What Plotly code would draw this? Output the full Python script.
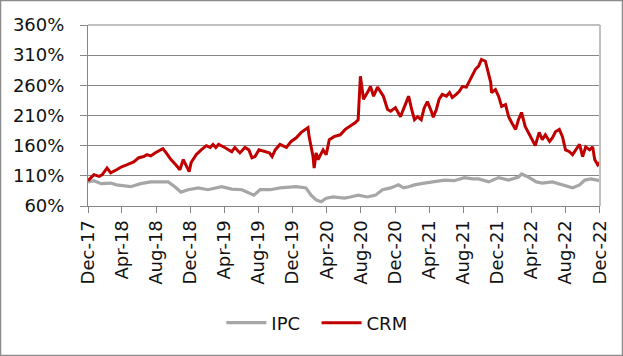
import plotly.graph_objects as go

# CRM (red) readings
crm_dates = [
    "2017-12-29", "2018-01-19", "2018-02-07", "2018-02-18", "2018-03-07", "2018-03-20",
    "2018-04-10", "2018-04-28", "2018-05-16", "2018-06-10", "2018-06-28", "2018-07-16",
    "2018-07-27", "2018-08-10", "2018-08-25", "2018-09-22", "2018-10-04", "2018-10-21",
    "2018-11-08", "2018-11-22", "2018-12-04", "2018-12-14", "2018-12-25", "2019-01-01",
    "2019-01-19", "2019-02-06", "2019-02-24", "2019-03-10", "2019-03-20", "2019-03-30",
    "2019-04-09", "2019-05-01", "2019-05-26", "2019-06-06", "2019-06-24", "2019-07-12",
    "2019-07-26", "2019-08-06", "2019-08-17", "2019-08-31", "2019-09-18", "2019-10-07",
    "2019-10-17", "2019-10-28", "2019-11-14", "2019-12-07", "2019-12-24", "2020-01-11",
    "2020-01-29", "2020-02-15", "2020-02-22", "2020-02-26", "2020-03-04", "2020-03-11",
    "2020-03-15", "2020-03-22", "2020-03-29", "2020-04-16", "2020-04-27", "2020-05-08",
    "2020-05-25", "2020-06-16", "2020-07-04", "2020-07-22", "2020-08-08", "2020-08-19",
    "2020-08-27", "2020-08-30", "2020-09-07", "2020-09-21", "2020-10-02", "2020-10-13",
    "2020-10-27", "2020-11-06", "2020-11-17", "2020-12-02", "2020-12-13", "2020-12-30",
    "2021-01-17", "2021-02-05", "2021-02-15", "2021-02-26", "2021-03-08", "2021-03-19",
    "2021-04-01", "2021-04-12", "2021-04-23", "2021-05-07", "2021-05-14", "2021-05-25",
    "2021-06-04", "2021-06-15", "2021-06-30", "2021-07-11", "2021-07-21", "2021-08-04",
    "2021-08-15", "2021-08-26", "2021-09-09", "2021-09-20", "2021-10-02", "2021-10-12",
    "2021-10-23", "2021-11-02", "2021-11-16", "2021-11-23", "2021-12-05", "2021-12-08",
    "2021-12-22", "2022-01-02", "2022-01-13", "2022-01-27", "2022-02-07", "2022-02-18",
    "2022-03-04", "2022-03-14", "2022-03-25", "2022-04-07", "2022-04-18", "2022-04-29",
    "2022-05-13", "2022-05-27", "2022-06-07", "2022-06-18", "2022-07-03", "2022-07-13",
    "2022-07-24", "2022-08-07", "2022-08-18", "2022-08-29", "2022-09-12", "2022-09-23",
    "2022-10-04", "2022-10-18", "2022-10-29", "2022-11-09", "2022-11-23", "2022-12-04",
    "2022-12-11", "2022-12-22", "2022-12-29",
]
crm_values = [
    102, 112, 109, 112, 123, 115,
    120, 125, 128, 133, 140, 142,
    145, 143, 148, 155, 148, 137,
    128, 120, 137, 128, 117, 132,
    145, 153, 160, 157, 162, 157,
    162, 157, 150, 157, 148, 157,
    153, 140, 142, 153, 150, 148,
    142, 153, 162, 157, 167, 173,
    182, 187, 190, 175, 158, 142,
    123, 148, 137, 153, 145, 170,
    175, 178, 187, 192, 198, 203,
    275, 265, 237, 248, 258, 242,
    257, 250, 242, 220, 217, 223,
    208, 230, 242, 220, 203, 208,
    203, 223, 233, 217, 207, 220,
    237, 245, 242, 248, 240, 245,
    250, 258, 257, 267, 278, 287,
    292, 303, 300, 287, 265, 248,
    253, 242, 225, 228, 208, 198,
    187, 203, 215, 192, 182, 170,
    160, 182, 170, 178, 167, 173,
    183, 187, 175, 153, 150, 145,
    153, 162, 142, 158, 153, 158,
    137, 128, 132,
]

# IPC (grey) readings
ipc_dates = [
    "2017-12-29", "2018-01-19", "2018-02-14", "2018-03-20", "2018-04-10", "2018-05-30",
    "2018-07-05", "2018-08-10", "2018-09-05", "2018-10-11", "2018-11-04", "2018-11-26",
    "2018-12-21", "2019-01-27", "2019-03-02", "2019-04-20", "2019-05-26", "2019-07-01",
    "2019-08-13", "2019-09-04", "2019-10-10", "2019-11-14", "2020-01-11", "2020-02-15",
    "2020-03-04", "2020-03-22", "2020-04-09", "2020-04-27", "2020-05-22", "2020-07-01",
    "2020-07-22", "2020-08-19", "2020-09-21", "2020-10-20", "2020-11-14", "2020-12-13",
    "2021-01-10", "2021-01-28", "2021-02-15", "2021-03-08", "2021-04-12", "2021-05-17",
    "2021-06-23", "2021-07-28", "2021-09-02", "2021-10-02", "2021-10-23", "2021-11-28",
    "2022-01-02", "2022-02-07", "2022-03-14", "2022-03-25", "2022-04-18", "2022-05-17",
    "2022-06-07", "2022-07-13", "2022-08-18", "2022-09-23", "2022-10-18", "2022-11-06",
    "2022-11-27", "2022-12-29",
]
ipc_values = [
    100, 102, 97, 98, 95, 92,
    97, 100, 100, 100, 92, 83,
    87, 90, 87, 92, 88, 87,
    78, 87, 87, 90, 92, 90,
    78, 70, 67, 73, 75, 73,
    75, 78, 75, 78, 87, 90,
    95, 90, 92, 95, 98, 100,
    103, 102, 107, 105, 105, 100,
    107, 103, 108, 113, 108, 100,
    98, 100, 95, 90, 95, 103,
    105, 102,
]

tick_vals = [
    "2017-12-29", "2018-04-29", "2018-08-29", "2018-12-29", "2019-04-29", "2019-08-29",
    "2019-12-29", "2020-04-29", "2020-08-29", "2020-12-29", "2021-04-29", "2021-08-29",
    "2021-12-29", "2022-04-29", "2022-08-29", "2022-12-29",
]
tick_text = [
    "Dec-17", "Apr-18", "Aug-18", "Dec-18", "Apr-19", "Aug-19", "Dec-19", "Apr-20",
    "Aug-20", "Dec-20", "Apr-21", "Aug-21", "Dec-21", "Apr-22", "Aug-22", "Dec-22",
]
y_ticks = [60, 110, 160, 210, 260, 310, 360]

FONT = "DejaVu Sans"
FS = 18
fig = go.Figure()
fig.add_trace(go.Scatter(x=ipc_dates, y=ipc_values, name="IPC\u00a0\u00a0", mode="lines",
                         line=dict(color="#A6A6A6", width=3.2)))
fig.add_trace(go.Scatter(x=crm_dates, y=crm_values, name="CRM", mode="lines",
                         line=dict(color="#C00000", width=3)))

fig.update_layout(
    width=623, height=356,
    margin=dict(l=88, r=23, t=25, b=150, autoexpand=False),
    paper_bgcolor="white", plot_bgcolor="white",
    font=dict(family=FONT, size=FS, color="#111111"),
    showlegend=True,
    legend=dict(orientation="h", x=0.447, xanchor="center", y=-0.646, yanchor="middle",
                font=dict(family=FONT, size=FS, color="#111111"),
                itemwidth=40, tracegroupgap=0, bgcolor="rgba(0,0,0,0)"),
    xaxis=dict(type="date", range=["2017-12-29", "2022-12-30"],
               tickmode="array", tickvals=tick_vals, ticktext=tick_text,
               tickangle=-90, ticks="outside", ticklen=6, tickcolor="#868686",
               showline=True, linecolor="#868686", linewidth=1,
               showgrid=False, zeroline=False, automargin=False,
               tickfont=dict(family=FONT, size=FS, color="#111111")),
    yaxis=dict(range=[60, 360], tickmode="array", tickvals=y_ticks,
               ticktext=[f"{v}%" for v in y_ticks],
               ticks="outside", ticklen=7, tickcolor="#868686",
               showline=True, linecolor="#868686", linewidth=1,
               showgrid=True, gridcolor="#868686", gridwidth=1,
               zeroline=False, ticklabelstandoff=12, automargin=False,
               tickfont=dict(family=FONT, size=FS, color="#111111")),
)

# light top/right plot border
fig.add_shape(type="line", xref="paper", yref="paper", x0=0, x1=1, y0=1, y1=1,
              line=dict(color="#C0C0C0", width=2), layer="above")
fig.add_shape(type="line", xref="paper", yref="paper", x0=1, x1=1, y0=0, y1=1,
              line=dict(color="#C0C0C0", width=2), layer="above")
# outer frame of the picture
fig.add_shape(type="rect", xref="paper", yref="paper",
              x0=(0.5 - 88) / 512, x1=(622.5 - 88) / 512,
              y0=-(355.5 - 206) / 181, y1=1 + (25 - 0.5) / 181,
              line=dict(color="#8C8C8C", width=1.5), layer="above")

fig.write_html("out.html", config={"displayModeBar": False},
               post_script="document.body.style.margin='0';document.body.style.padding='0';")
